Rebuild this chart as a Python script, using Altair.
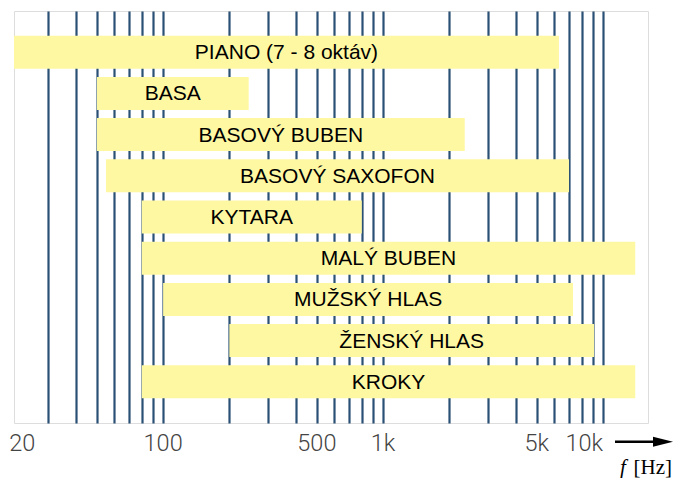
import altair as alt
import pandas as pd

# ---- data ----
instruments = ["PIANO (7 - 8 oktáv)", "BASA", "BASOVÝ BUBEN", "BASOVÝ SAXOFON",
               "KYTARA", "MALÝ BUBEN", "MUŽSKÝ HLAS", "ŽENSKÝ HLAS", "KROKY"]
f_low = [21, 50, 50, 55, 80, 80, 100, 200, 80]
f_high = [6300, 245, 2350, 7000, 800, 14000, 7300, 9100, 14000]

grid_hz = [30, 40, 50, 60, 70, 80, 90,
           100, 200, 300, 400, 500, 600, 700, 800, 900,
           1000, 2000, 3000, 4000, 5000, 6000, 7000, 8000, 9000, 10000]
tick_hz = [20, 100, 500, 1000, 5000, 10000]
tick_text = ["20", "100", "500", "1k", "5k", "10k"]
x_domain = [21, 16000]

df = pd.DataFrame({"name": instruments, "low": f_low, "high": f_high})
ticks_df = pd.DataFrame({"hz": tick_hz, "label": tick_text})

W, H = 634, 412

xscale = alt.Scale(type="log", domain=x_domain, nice=False)
xaxis = alt.Axis(values=grid_hz, grid=True, gridColor="#2b5075", gridWidth=2.2,
                 gridOpacity=1, labels=False, ticks=False, domain=False, title=None)
yenc = alt.Y("name:N", sort=instruments, axis=None,
             scale=alt.Scale(paddingInner=0.2, paddingOuter=0.6))

bars = alt.Chart(df).mark_bar(color="#fff8a3", opacity=1, strokeWidth=0).encode(
    x=alt.X("low:Q", scale=xscale, axis=xaxis),
    x2="high:Q",
    y=yenc,
)

names = alt.Chart(df).transform_calculate(
    mid="sqrt(datum.low * datum.high)"
).mark_text(font="Liberation Sans", fontSize=21, color="#000000",
            baseline="middle", dy=1).encode(
    x=alt.X("mid:Q", scale=xscale, axis=xaxis),
    y=yenc,
    text="name:N",
)

tick_base = alt.Chart(ticks_df).transform_joinaggregate(
    lo="min(hz)", hi="max(hz)"
)
tick_style = dict(font="Roboto", fontWeight=300, fontSize=23.5, color="#444444",
                  baseline="alphabetic")
tick_enc = dict(x=alt.X("hz:Q", scale=xscale, axis=xaxis),
                y=alt.value(440), text="label:N")

lab_left = tick_base.transform_filter("datum.hz == datum.lo").mark_text(
    align="left", **tick_style).encode(**tick_enc)
lab_mid = tick_base.transform_filter("datum.hz != datum.lo && datum.hz != datum.hi").mark_text(
    align="center", **tick_style).encode(**tick_enc)
lab_right = tick_base.transform_filter("datum.hz == datum.hi").mark_text(
    align="right", **tick_style).encode(**tick_enc)

one = pd.DataFrame({"k": [0]})
arrow_line = alt.Chart(one).mark_rule(color="#000000", strokeWidth=2.6).encode(
    x=alt.value(601), x2=alt.value(648), y=alt.value(430.7))
arrow_head = alt.Chart(one).mark_point(
    shape="M-1,-0.5L1,0L-1,0.5Z", filled=True, color="#000000", opacity=1,
    size=400, strokeWidth=0).encode(x=alt.value(649), y=alt.value(430.7))

f_txt = alt.Chart(one).mark_text(
    text="f", font="Liberation Serif", fontStyle="italic", fontSize=21,
    color="#000000", align="left", baseline="alphabetic").encode(
    x=alt.value(606), y=alt.value(463))
hz_txt = alt.Chart(one).mark_text(
    text="[Hz]", font="Liberation Serif", fontSize=21,
    color="#000000", align="right", baseline="alphabetic").encode(
    x=alt.value(658), y=alt.value(463))

chart = alt.layer(
    bars, names, lab_left, lab_mid, lab_right, arrow_line, arrow_head, f_txt, hz_txt
).properties(
    width=W, height=H,
    padding={"left": 6, "top": 3, "right": 26, "bottom": 55},
    autosize=alt.AutoSizeParams(type="none"),
).configure_view(fill="#cad8ec", stroke=None).configure(background="#ffffff")

chart.save("out.html", embed_options={"renderer": "svg", "actions": False})
